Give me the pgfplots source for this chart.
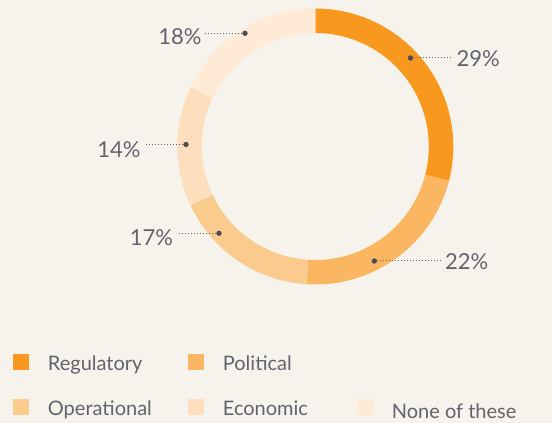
\documentclass[border=0pt]{standalone}
\usepackage{pgfplots}
\pgfplotsset{compat=1.18}
\usepackage{fontspec}
\setmainfont{Lato}
\definecolor{bg}{HTML}{F6F3EC}
\definecolor{cA}{HTML}{F8981F}
\definecolor{cB}{HTML}{FAB660}
\definecolor{cC}{HTML}{FBCB8E}
\definecolor{cD}{HTML}{FDDFBE}
\definecolor{cE}{HTML}{FEEAD5}
\definecolor{txt}{HTML}{63636E}
\definecolor{dotc}{HTML}{4A4A55}
% shares (percent), clockwise from 12 o'clock
\def\vA{29}\def\vB{22}\def\vC{17}\def\vD{14}\def\vE{18}
\newcommand{\seg}[3]{% start, value, colour
  \fill[#3] ([shift={({90-(#1)*3.6}:138pt)}]axis cs:315.3,276.5)
    arc[start angle={90-(#1)*3.6}, end angle={90-(#1+#2)*3.6}, radius=138pt]
    -- ([shift={({90-(#1+#2)*3.6}:113.5pt)}]axis cs:315.3,276.5)
    arc[start angle={90-(#1+#2)*3.6}, end angle={90-(#1)*3.6}, radius=113.5pt]
    -- cycle;}
\begin{document}
\begin{tikzpicture}
\begin{axis}[
  x=1pt, y=1pt, xmin=0, xmax=552, ymin=0, ymax=423,
  hide axis, clip=false, scale only axis,
]
\fill[bg] (axis cs:0,0) rectangle (axis cs:552,423);
\seg{0}{\vA}{cA}
\seg{\vA}{\vB}{cB}
\seg{\vA+\vB}{\vC}{cC}
\seg{\vA+\vB+\vC}{\vD}{cD}
\seg{\vA+\vB+\vC+\vD}{\vE}{cE}
% leader lines
\pgfplotsset{leader/.style={dotc!85, line width=1pt, dash pattern=on 1pt off 2pt}}
\addplot[leader] coordinates {(410.5,365) (452,365)};
\addplot[leader] coordinates {(374.3,162) (441,162)};
\addplot[leader] coordinates {(219,189.7) (178,189.7)};
\addplot[leader] coordinates {(186,278.5) (145.7,278.5)};
\addplot[leader] coordinates {(245,389.7) (205,389.7)};
\addplot[only marks, mark=*, mark size=2.4pt, dotc] coordinates {(410.5,365) (374.3,162) (219,189.7) (186,278.5) (245,389.7)};
% percentage labels
\node[anchor=base west, inner sep=0, txt, font=\fontsize{22}{26}\selectfont] at (axis cs:456.5,356.3) {\vA\%};
\node[anchor=base west, inner sep=0, txt, font=\fontsize{22}{26}\selectfont] at (axis cs:445,153) {\vB\%};
\node[anchor=base east, inner sep=0, txt, font=\fontsize{22}{26}\selectfont] at (axis cs:173.3,177) {\vC\%};
\node[anchor=base east, inner sep=0, txt, font=\fontsize{22}{26}\selectfont] at (axis cs:140.7,265.3) {\vD\%};
\node[anchor=base east, inner sep=0, txt, font=\fontsize{22}{26}\selectfont] at (axis cs:201.7,378) {\vE\%};
% legend
\addplot[only marks, mark=square*, mark size=7.5pt, cA] coordinates {(20.5,61)};
\addplot[only marks, mark=square*, mark size=7.5pt, cB] coordinates {(195.8,61)};
\addplot[only marks, mark=square*, mark size=7.5pt, cC] coordinates {(20.5,16)};
\addplot[only marks, mark=square*, mark size=7.5pt, cD] coordinates {(195.8,16)};
\addplot[only marks, mark=square*, mark size=7.5pt, cE] coordinates {(364.2,16)};
\node[anchor=base west, inner sep=0, txt, font=\fontsize{20}{24}\selectfont] at (axis cs:47.7,52) {Regulatory};
\node[anchor=base west, inner sep=0, txt, font=\fontsize{20}{24}\selectfont] at (axis cs:222.7,52) {Political};
\node[anchor=base west, inner sep=0, txt, font=\fontsize{20}{24}\selectfont] at (axis cs:47.7,7) {Operational};
\node[anchor=base west, inner sep=0, txt, font=\fontsize{20}{24}\selectfont] at (axis cs:222.7,7) {Economic};
\node[anchor=base west, inner sep=0, txt, font=\fontsize{20}{24}\selectfont] at (axis cs:391.7,4.7) {None of these};
\end{axis}
\end{tikzpicture}
\end{document}
